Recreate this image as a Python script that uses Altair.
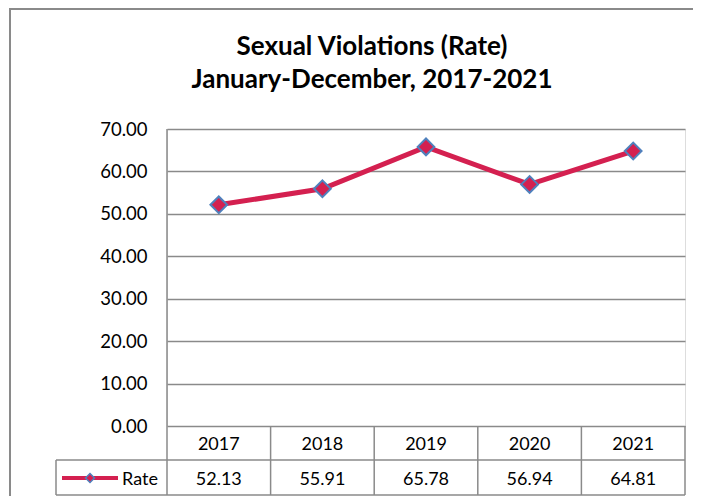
import altair as alt
import pandas as pd

# ---- data ----
years = ["2017", "2018", "2019", "2020", "2021"]
rates = [52.13, 55.91, 65.78, 56.94, 64.81]
series_name = "Rate"
y_ticks = [0, 10, 20, 30, 40, 50, 60, 70]
title_lines = ["Sexual Violations (Rate)", "January-December, 2017-2021"]

df = pd.DataFrame({"Year": years, "Rate": rates})
df["RateLabel"] = [f"{v:.2f}" for v in rates]
one = pd.DataFrame({"k": [0]})
titles = pd.DataFrame({"line": title_lines, "ty": [-82, -49]})

# ---- style ----
FONT = "Lato"
RED = "#D42050"
BLUE = "#4F81BD"
GRAY = "#8A8A8A"
W, H = 518, 297
STEP = W / len(years)
ROW1 = 331      # bottom of the year row (px from plot top)
ROW2 = 366      # bottom of the value row
ROW1_MID = 314
ROW2_MID = 349
LEG_LEFT = -111
PAD = {"left": 159, "top": 121, "right": 8, "bottom": 70}

x = alt.X("Year:O", scale=alt.Scale(type="point", padding=0.5, domain=years), axis=None)
y = alt.Y(
    "Rate:Q",
    scale=alt.Scale(domain=[0, 70], nice=False),
    axis=alt.Axis(
        values=y_ticks, format=".2f", title=None, grid=True, gridColor=GRAY,
        gridWidth=1.5, domain=False, ticks=False, labelPadding=20,
        labelFont=FONT, labelFontSize=18.5, labelColor="black",
    ),
)

base = alt.Chart(df)

# outer chart frame (only top and left edges are visible in the picture)
frame_top = alt.Chart(one).mark_rule(color=GRAY, strokeWidth=2).encode(
    x=alt.value(-158), x2=alt.value(W + PAD["right"]), y=alt.value(-120)
)
frame_left = alt.Chart(one).mark_rule(color=GRAY, strokeWidth=2).encode(
    x=alt.value(-157), y=alt.value(-121), y2=alt.value(H + PAD["bottom"])
)

title_text = alt.Chart(titles).mark_text(
    font=FONT, fontSize=26, fontWeight="bold", color="black", baseline="middle", align="center"
).encode(x=alt.value(205), y=alt.Y("ty:Q", scale=None), text="line:N")

line = base.mark_line(color=RED, strokeWidth=5).encode(x=x, y=y)
pts = base.mark_point(shape="diamond", filled=True, color=RED, stroke=BLUE,
                      strokeWidth=2, size=280, opacity=1).encode(x=x, y=y)

# table
vrules = base.mark_rule(color=GRAY, strokeWidth=1.5, xOffset=STEP / 2).encode(
    x=x, y=alt.value(H), y2=alt.value(ROW2)
)
left_rule = alt.Chart(one).mark_rule(color=GRAY, strokeWidth=1.5).encode(
    x=alt.value(0), y=alt.value(0), y2=alt.value(ROW2)
)
leg_left_rule = alt.Chart(one).mark_rule(color=GRAY, strokeWidth=1.5).encode(
    x=alt.value(LEG_LEFT), y=alt.value(ROW1), y2=alt.value(ROW2)
)
h1 = alt.Chart(one).mark_rule(color=GRAY, strokeWidth=1.5).encode(
    x=alt.value(LEG_LEFT), x2=alt.value(W), y=alt.value(ROW1)
)
h2 = alt.Chart(one).mark_rule(color=GRAY, strokeWidth=1.5).encode(
    x=alt.value(LEG_LEFT), x2=alt.value(W), y=alt.value(ROW2)
)
year_text = base.mark_text(font=FONT, fontSize=18, baseline="middle", color="black", dy=2).encode(
    x=x, y=alt.value(ROW1_MID), text="Year:N"
)
val_text = base.mark_text(font=FONT, fontSize=18, baseline="middle", color="black", dy=2).encode(
    x=x, y=alt.value(ROW2_MID), text="RateLabel:N"
)

# legend key inside the table
leg_line = alt.Chart(one).mark_rule(color=RED, strokeWidth=4).encode(
    x=alt.value(-105), x2=alt.value(-49), y=alt.value(ROW2_MID)
)
leg_pt = alt.Chart(one).mark_point(shape="diamond", filled=True, color=RED, stroke=BLUE,
                                   strokeWidth=1.5, size=80, opacity=1).encode(
    x=alt.value(-77), y=alt.value(ROW2_MID)
)
leg_text = alt.Chart(one).mark_text(font=FONT, fontSize=18, align="left", baseline="middle",
                                    color="black", dy=2).encode(
    x=alt.value(-45), y=alt.value(ROW2_MID), text=alt.value(series_name)
)

chart = alt.layer(
    frame_top, frame_left, title_text, vrules, left_rule, leg_left_rule, h1, h2, line, pts,
    year_text, val_text, leg_line, leg_pt, leg_text,
).properties(
    width=W, height=H,
    padding=PAD,
    autosize=alt.AutoSizeParams(type="none"),
).configure_view(stroke=None).configure(background="white")

chart.save("out.html", embed_options={"renderer": "svg", "actions": False})
